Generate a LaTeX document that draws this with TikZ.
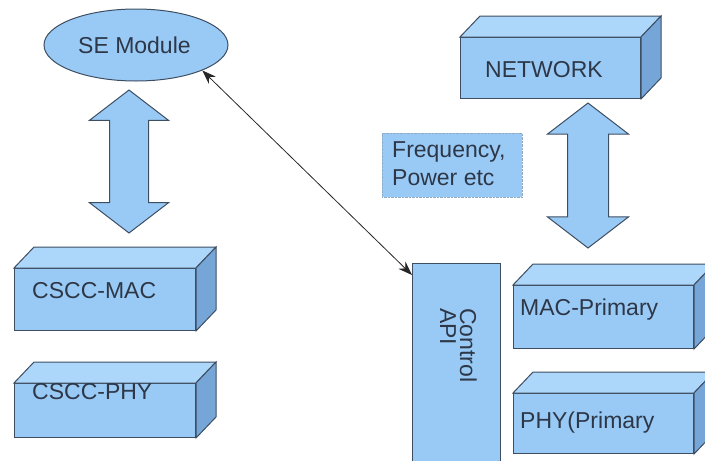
\documentclass[tikz,border=0pt]{standalone}
\usepackage{fontspec}
\setmainfont{Liberation Sans}
\usetikzlibrary{shapes.geometric,shapes.arrows,arrows.meta,calc}
\definecolor{boxblue}{RGB}{153,202,245}
\definecolor{topblue}{RGB}{172,214,250}
\definecolor{sideblue}{RGB}{118,166,215}
\definecolor{edgegrey}{RGB}{62,78,98}
\definecolor{textgrey}{RGB}{45,55,72}
\tikzset{
  face/.style={draw=edgegrey, fill=boxblue, line width=1pt},
  front/.style={face, rectangle, inner sep=0pt, anchor=north west},
  lbl/.style={text=textgrey, inner sep=0pt, anchor=base west, font=\fontsize{23}{28}\selectfont},
  bigarrow/.style={face, double arrow, rotate=90, inner sep=19pt,
    double arrow head extend=20pt, double arrow tip angle=105},
  linktip/.tip={Stealth[length=14pt,width=10pt]}
}
% front face, then top and side of a block
\newcommand{\slab}[5]{%
  \node[front, minimum width=#4pt, minimum height=#5pt] (#1) at (#2,#3) {};
  \draw[face, fill=topblue] (#1.north west) -- ++(20,-21) -- ($(#1.north east)+(20,-21)$) -- (#1.north east) -- cycle;
  \draw[face, fill=sideblue] (#1.north east) -- ++(20,-21) -- ($(#1.south east)+(20,-21)$) -- (#1.south east) -- cycle;
}
\begin{document}
\begin{tikzpicture}[x=1pt,y=-1pt]
  \useasboundingbox (0,0) rectangle (705,461);
  \clip (0,0) rectangle (705,461);

  % left side
  \node[face, ellipse, minimum width=184pt, minimum height=72pt, inner sep=0pt] (seMod) at (136,45) {};
  \node[lbl] (seTxt) at (78,53) {SE Module};
  \node[bigarrow, minimum height=143pt] (seLink) at (129,161.5) {};
  \slab{cscMac}{14}{268}{181}{62}
  \slab{cscPhy}{14}{383}{181}{54}
  \node[lbl] (cscMacTxt) at (32,298) {CSCC-MAC};
  \node[lbl] (cscPhyTxt) at (32,399) {CSCC-PHY};

  % right side
  \slab{netw}{460}{37}{180}{61}
  \node[lbl] (netwTxt) at (485,77) {NETWORK};
  \node[bigarrow, inner sep=20pt, minimum height=145pt] (netLink) at (588,175.5) {};
  \node[fill=boxblue, draw=boxblue!60!gray, densely dotted, minimum width=140pt, minimum height=64pt,
    inner sep=0pt, anchor=north west] (freq) at (382,133) {};
  \node[lbl] (freqTxt) at (392,157) {Frequency,};
  \node[lbl] (powTxt) at (392,185) {Power etc};

  \node[front, minimum width=88pt, minimum height=220pt] (ctrlApi) at (412,263) {};
  \node[lbl, rotate=-90] (ctrlTxt) at (460,308) {Control};
  \node[lbl, rotate=-90] (apiTxt) at (440,308) {API};

  \slab{macPri}{513}{285}{180}{63}
  \slab{phyPri}{513}{393}{180}{60}
  \node[lbl] (macPriTxt) at (520,315) {MAC-Primary};
  \node[lbl] (phyPriTxt) at (520,428) {PHY(Primary};

  \draw[linktip-linktip, line width=0.8pt, black!85] (seMod.-21) -- ([yshift=-12pt]ctrlApi.north west);
\end{tikzpicture}
\end{document}
